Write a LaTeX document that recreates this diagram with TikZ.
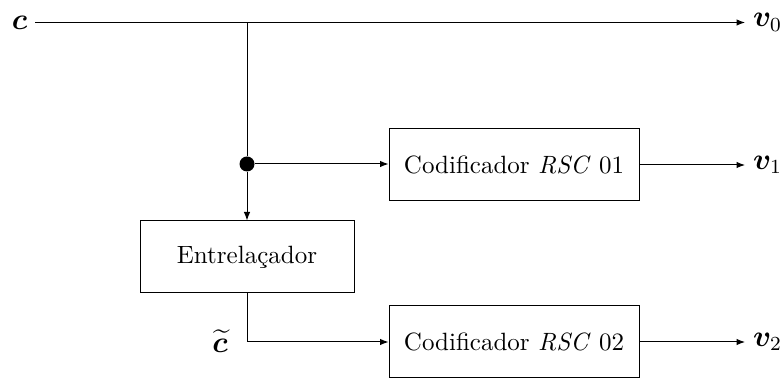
\documentclass[tikz,border=0pt]{standalone}
\usepackage{amsmath,amssymb,bm}
\usetikzlibrary{arrows.meta}
\begin{document}
\begin{tikzpicture}[x=0.4pt,y=-0.4pt,
  blk/.style={draw,minimum height=28.8pt,inner sep=0pt},
  conn/.style={-{Latex[length=3.4pt,width=2.6pt]}},
  lbl/.style={inner sep=3pt,font=\large}]
\useasboundingbox (0,0) rectangle (780,378);
\node[lbl] (c) at (19.5,23) {$\boldsymbol{c}$};
\node[lbl,anchor=west] (v0) at (745,22.5) {$\boldsymbol{v}_0$};
\coordinate (j0) at (247,22.5);
\node[circle,fill=black,inner sep=0pt,minimum size=6pt] (dot) at (247,164) {};
\node[blk,minimum width=100pt] (enc1) at (514,165) {Codificador \textit{RSC} 01};
\node[blk,minimum width=85.6pt] (ent) at (247,257) {Entrela\c{c}ador};
\node[blk,minimum width=100pt] (enc2) at (514,342) {Codificador \textit{RSC} 02};
\node[lbl,anchor=west] (v1) at (745,165) {$\boldsymbol{v}_1$};
\node[lbl,anchor=west] (v2) at (745,342) {$\boldsymbol{v}_2$};
\node[lbl] (ct) at (220,341) {$\widetilde{\boldsymbol{c}}$};
\coordinate (j2) at (247,342);
\draw[conn] (c.east |- j0) -- (v0.west);
\draw (j0) -- (dot);
\draw[conn] (dot) -- (ent.north);
\draw[conn] (dot) -- (dot -| enc1.west);
\draw[conn] (enc1.east) -- (v1.west);
\draw (ent.south) -- (j2);
\draw[conn] (j2) -- (enc2.west);
\draw[conn] (enc2.east) -- (v2.west);
\end{tikzpicture}
\end{document}
